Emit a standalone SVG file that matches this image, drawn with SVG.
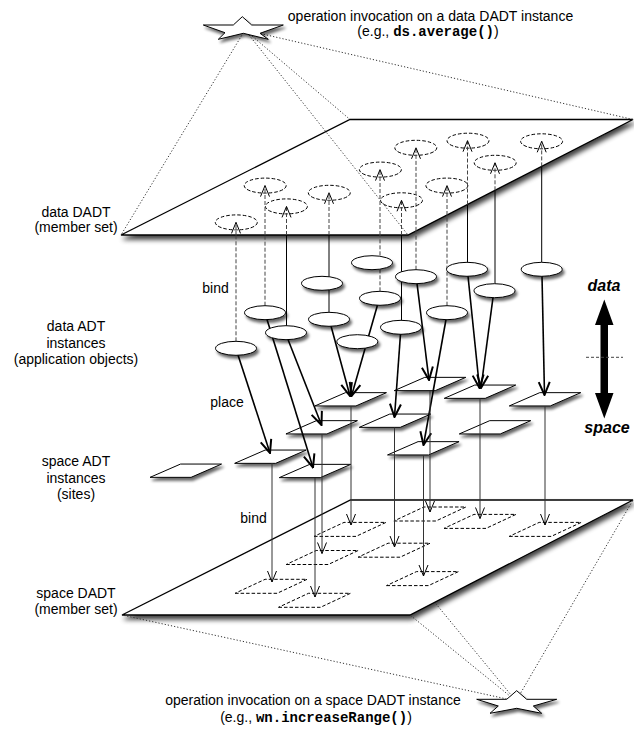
<svg xmlns="http://www.w3.org/2000/svg" xmlns:xlink="http://www.w3.org/1999/xlink" width="634" height="731" viewBox="0 0 634 731">
<defs>
<style>
.t{font-family:"Liberation Sans",Arial,sans-serif;font-size:14px;fill:#000}
.m{font-family:"Liberation Mono","Courier New",monospace;font-weight:bold}
.ax{font-family:"Liberation Sans",Arial,sans-serif;font-size:16px;font-weight:bold;font-style:italic;fill:#000}
.plane{fill:#fff;stroke:#000;stroke-width:1.3;filter:url(#psh)}
.obj{fill:#fff;stroke:#000;stroke-width:1;filter:url(#sh)}
.mem{fill:none;stroke:#000;stroke-width:1;stroke-dasharray:3.5 2}
.bs{fill:none;stroke:#000;stroke-width:1}
.bd{fill:none;stroke:#444;stroke-width:1;stroke-dasharray:4 2}
.up{marker-end:url(#h)}
.place{fill:none;stroke:#000;stroke-width:1.6;marker-end:url(#hb)}
.low{fill:none;stroke:#333;stroke-width:1;marker-end:url(#h)}
.dot{fill:none;stroke:#333;stroke-width:1;stroke-dasharray:1.2 2}
</style>
<filter id="sh" x="-30%" y="-50%" width="170%" height="220%">
<feGaussianBlur in="SourceAlpha" stdDeviation="1.8"/>
<feOffset dx="2" dy="3"/>
<feComponentTransfer><feFuncA type="linear" slope="0.6"/></feComponentTransfer>
<feMerge><feMergeNode/><feMergeNode in="SourceGraphic"/></feMerge>
</filter>
<filter id="psh" x="-10%" y="-10%" width="125%" height="130%">
<feGaussianBlur in="SourceAlpha" stdDeviation="2.5"/>
<feOffset dx="2" dy="4"/>
<feComponentTransfer><feFuncA type="linear" slope="0.75"/></feComponentTransfer>
<feMerge><feMergeNode/><feMergeNode in="SourceGraphic"/></feMerge>
</filter>
<marker id="h" viewBox="-12 -6 13 12" refX="0" refY="0" markerWidth="13" markerHeight="12" markerUnits="userSpaceOnUse" orient="auto">
<path d="M-11,-4.5 L0,0 L-11,4.5" fill="none" stroke="#000" stroke-width="1"/>
</marker>
<marker id="hb" viewBox="-15 -7 16 14" refX="0" refY="0" markerWidth="16" markerHeight="14" markerUnits="userSpaceOnUse" orient="auto">
<path d="M-13,-5.5 L0,0 L-13,5.5" fill="none" stroke="#000" stroke-width="2"/>
</marker>
<polygon id="site" points="-35.75,6.65 5.25,6.65 35.75,-6.65 -5.25,-6.65"/>
<polygon id="msite" points="-36,7 6,7 36,-7 -6,-7"/>
</defs>
<rect width="634" height="731" fill="#fff"/>

<g id="data-dadt-plane"><polygon class="plane" points="121,235 350,119.5 633,119.5 408,235"/></g>
<g id="space-dadt-plane"><polygon class="plane" points="122,615 350.5,500 633,500 410,615"/></g>

<g id="data-dadt-members">
<ellipse class="mem" cx="236.3" cy="222.4" rx="21" ry="7.5"/>
<ellipse class="mem" cx="265.2" cy="185.6" rx="21" ry="7.5"/>
<ellipse class="mem" cx="286.4" cy="206.4" rx="21" ry="7.5"/>
<ellipse class="mem" cx="329.3" cy="192.8" rx="21" ry="7.5"/>
<ellipse class="mem" cx="380.4" cy="169.6" rx="21" ry="7.5"/>
<ellipse class="mem" cx="415.8" cy="147.8" rx="21" ry="7.5"/>
<ellipse class="mem" cx="401.5" cy="200.3" rx="21" ry="7.5"/>
<ellipse class="mem" cx="468" cy="140.7" rx="21" ry="7.5"/>
<ellipse class="mem" cx="446.9" cy="185.6" rx="21" ry="7.5"/>
<ellipse class="mem" cx="495.2" cy="162.8" rx="21" ry="7.5"/>
<ellipse class="mem" cx="541.6" cy="141.3" rx="21" ry="7.5"/>
</g>

<g id="space-dadt-members">
<use xlink:href="#msite" class="mem" x="350" y="529.4"/>
<use xlink:href="#msite" class="mem" x="429.9" y="514"/>
<use xlink:href="#msite" class="mem" x="480" y="521.4"/>
<use xlink:href="#msite" class="mem" x="545.2" y="529.4"/>
<use xlink:href="#msite" class="mem" x="322.2" y="557.5"/>
<use xlink:href="#msite" class="mem" x="394.1" y="550.2"/>
<use xlink:href="#msite" class="mem" x="271.1" y="586.3"/>
<use xlink:href="#msite" class="mem" x="422.5" y="578.6"/>
<use xlink:href="#msite" class="mem" x="314.5" y="600.3"/>
</g>

<g id="space-adt-instances">
<g id="site-1"><use xlink:href="#site" class="obj" x="185.8" y="470.7"/></g>
<g id="site-2"><use xlink:href="#site" class="obj" x="270.4" y="456.7"/></g>
<g id="site-3"><use xlink:href="#site" class="obj" x="315" y="471"/></g>
<g id="site-4"><use xlink:href="#site" class="obj" x="321.7" y="427.3"/></g>
<g id="site-5"><use xlink:href="#site" class="obj" x="350.7" y="399.3"/></g>
<g id="site-6"><use xlink:href="#site" class="obj" x="395" y="420.7"/></g>
<g id="site-7"><use xlink:href="#site" class="obj" x="430" y="384"/></g>
<g id="site-8"><use xlink:href="#site" class="obj" x="423.3" y="448.3"/></g>
<g id="site-9"><use xlink:href="#site" class="obj" x="480" y="391.7"/></g>
<g id="site-10"><use xlink:href="#site" class="obj" x="545" y="399.3"/></g>
<g id="site-11"><use xlink:href="#site" class="obj" x="495" y="427.3"/></g>
</g>

<g id="connectors">
<path class="dot" d="M245,30 L121,235 M245,30 L350,119.5 M245,30 L408,235 M245,30 L633,119.5"/>
<path class="dot" d="M516,701 L122,615 M516,701 L410,615 M516,701 L434.7,602.3 M516,701 L633,500"/>
<path class="bd" d="M236,341.3 V235"/><path class="bd up" d="M236,235 V222.4"/>
<path class="bd" d="M265,305.7 V235"/><path class="bd up" d="M265,235 V185.6"/>
<path class="bs" d="M286.5,325.7 V235"/><path class="bd up" d="M286.5,235 V206.4"/>
<path class="bs" d="M329,312.3 V235"/><path class="bd up" d="M329,235 V192.8"/>
<path class="bd" d="M380,291.3 V235"/><path class="bd up" d="M380,235 V169.6"/>
<path class="bs" d="M401.5,320.3 V235"/><path class="bd up" d="M401.5,235 V200.3"/>
<path class="bd" d="M416,269.7 V230.9"/><path class="bd up" d="M416,230.9 V147.8"/>
<path class="bd" d="M447,305.7 V215"/><path class="bd up" d="M447,215 V185.6"/>
<path class="bs" d="M467.5,262.3 V204.5"/><path class="bd up" d="M467.5,204.5 V140.7"/>
<path class="bs" d="M495,283.7 V190.3"/><path class="bd up" d="M495,190.3 V162.8"/>
<path class="bs" d="M541.7,262.3 V166.4"/><path class="bd up" d="M541.7,166.4 V141.3"/>
<path class="place" d="M238,355 L270,453"/>
<path class="place" d="M267,319.5 L313,467.5"/>
<path class="place" d="M288,339.5 L321.5,425"/>
<path class="place" d="M331,326 L350,396"/>
<path class="place" d="M377.5,305 L351.5,396"/>
<path class="place" d="M417,283.5 L429,380"/>
<path class="place" d="M400.5,334 L394.5,417"/>
<path class="place" d="M446,319.5 L423.5,445"/>
<path class="place" d="M468,276 L479.5,388"/>
<path class="place" d="M493,297.5 L481,388"/>
<path class="place" d="M542,276 L544.5,395"/>
<path class="low" d="M272,463 V582"/>
<path class="low" d="M315,478 V597"/>
<path class="low" d="M322,434 V553.5"/>
<path class="low" d="M351,406 V525"/>
<path class="low" d="M394.5,427.5 V547"/>
<path class="low" d="M423.5,455 V576"/>
<path class="low" d="M430,391 V512"/>
<path class="low" d="M480,398.5 V518.5"/>
<path class="low" d="M545,406 V525"/>
</g>

<g id="data-adt-instances">
<g id="obj-1"><ellipse class="obj" cx="236" cy="348.3" rx="20.5" ry="7"/></g>
<g id="obj-2"><ellipse class="obj" cx="265" cy="312.7" rx="20.5" ry="7"/></g>
<g id="obj-3"><ellipse class="obj" cx="286" cy="332.7" rx="20.5" ry="7"/></g>
<g id="obj-4"><ellipse class="obj" cx="322" cy="283.3" rx="20.5" ry="7"/></g>
<g id="obj-5"><ellipse class="obj" cx="329" cy="319.3" rx="20.5" ry="7"/></g>
<g id="obj-6"><ellipse class="obj" cx="372" cy="262.7" rx="20.5" ry="7"/></g>
<g id="obj-7"><ellipse class="obj" cx="380" cy="298.3" rx="20.5" ry="7"/></g>
<g id="obj-8"><ellipse class="obj" cx="357.3" cy="341.7" rx="20.5" ry="7"/></g>
<g id="obj-9"><ellipse class="obj" cx="416" cy="276.7" rx="20.5" ry="7"/></g>
<g id="obj-10"><ellipse class="obj" cx="401" cy="327.3" rx="20.5" ry="7"/></g>
<g id="obj-11"><ellipse class="obj" cx="467" cy="269.3" rx="20.5" ry="7"/></g>
<g id="obj-12"><ellipse class="obj" cx="447" cy="312.7" rx="20.5" ry="7"/></g>
<g id="obj-13"><ellipse class="obj" cx="494.5" cy="290.7" rx="20.5" ry="7"/></g>
<g id="obj-14"><ellipse class="obj" cx="541.7" cy="269.3" rx="20.5" ry="7"/></g>
</g>

<g id="star-data"><polygon class="obj" points="203.3,25 233.3,25 242.3,16.7 251.7,25 283.3,25 260,33.3 268.3,39.3 243.3,33.3 218.3,39.3 225,32.7"/></g>
<g id="star-space"><polygon class="obj" points="476.7,699.3 506.7,699.3 516.7,690.7 526.7,699.3 556.7,699.3 533.3,706 541.7,713.3 516.7,708.3 490,713.3 498.3,706"/></g>

<g id="axis">
<polygon points="604.3,299.5 613.5,325 608,325 608,393 613.5,393 604.3,418.5 595,393 600.5,393 600.5,325 595,325" fill="#000"/>
<path d="M586,357.3 H623" stroke="#444" stroke-width="1" stroke-dasharray="3 2" fill="none"/>
<text class="ax" x="604" y="291" text-anchor="middle">data</text>
<text class="ax" x="607" y="432.5" text-anchor="middle">space</text>
</g>

<g id="labels" class="t" text-anchor="middle">
<text class="t" x="430.5" y="20.5">operation invocation on a data DADT instance</text>
<text class="t" x="428" y="36">(e.g., <tspan class="m">ds.average()</tspan>)</text>
<text class="t" x="76" y="216.5">data DADT</text>
<text class="t" x="76" y="232">(member set)</text>
<text class="t" x="76" y="330.5">data ADT</text>
<text class="t" x="76" y="347.5">instances</text>
<text class="t" x="76" y="363.5">(application objects)</text>
<text class="t" x="76" y="466">space ADT</text>
<text class="t" x="76" y="482.5">instances</text>
<text class="t" x="76" y="499">(sites)</text>
<text class="t" x="76" y="597.5">space DADT</text>
<text class="t" x="76" y="613.5">(member set)</text>
<text class="t" x="215.5" y="293">bind</text>
<text class="t" x="227" y="407">place</text>
<text class="t" x="253.5" y="523">bind</text>
<text class="t" x="313" y="705">operation invocation on a space DADT instance</text>
<text class="t" x="316" y="721.5">(e.g., <tspan class="m">wn.increaseRange()</tspan>)</text>
</g>
</svg>
